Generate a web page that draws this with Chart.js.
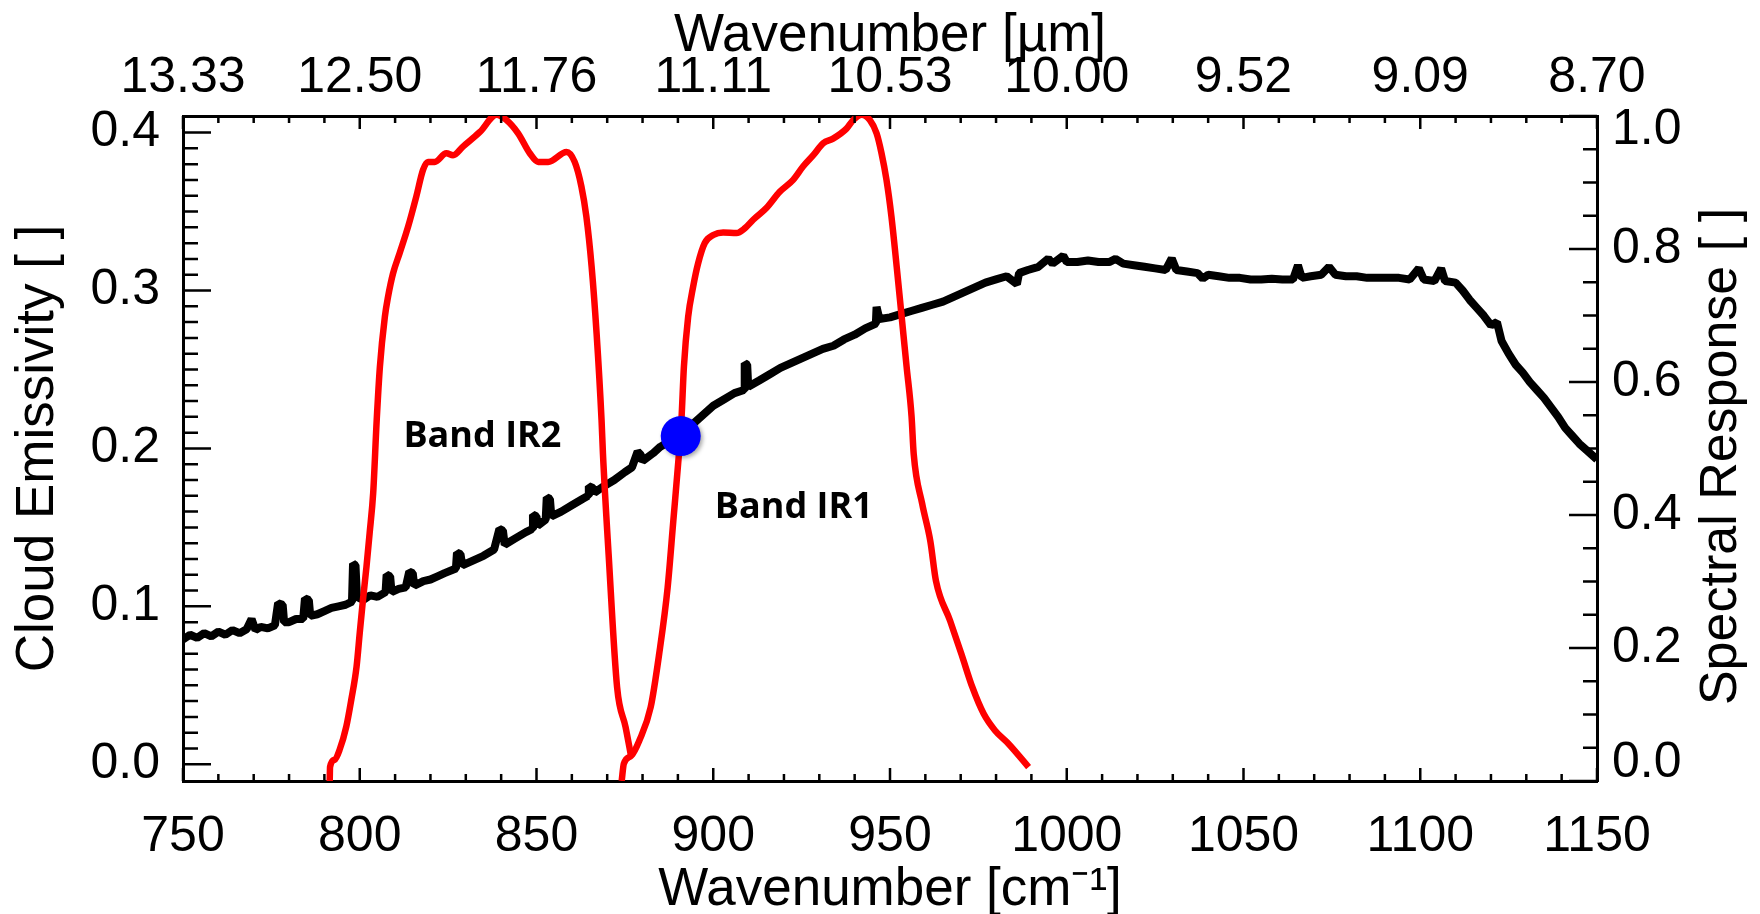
<!DOCTYPE html>
<html lang="en">
<head>
<meta charset="UTF-8">
<title>Cloud Emissivity and Spectral Response</title>
<script src="https://cdn.jsdelivr.net/npm/chart.js@4.4.1/dist/chart.umd.min.js"></script>
<style>
  html, body { margin: 0; padding: 0; background: #fff; }
  .chart-container { position: relative; width: 1760px; height: 914px; }
</style>
</head>
<body>
<div class="chart-container"><canvas id="emisChart"></canvas></div>
<script>
// tick values
const wnTicks = [750, 800, 850, 900, 950, 1000, 1050, 1100, 1150];
const emisTicks = [0.0, 0.1, 0.2, 0.3, 0.4];
const respTicks = [0.0, 0.2, 0.4, 0.6, 0.8, 1.0];

// cloud emissivity (black)
const emisWn = [
  750, 752, 754, 756, 758, 760, 762, 764, 766, 768, 769.4, 770.5, 772, 774, 776, 776.9, 778.2, 778.6,
  780, 782, 784, 784.5, 785.6, 786, 788, 790, 792, 794, 796, 797.8, 798.1, 798.8, 799.2,
  801, 803, 805, 807.3, 807.6, 808.6, 809, 811, 813, 814, 815, 815.4, 818, 820, 822, 824,
  827.2, 827.5, 828.5, 829, 832, 835, 838, 839.5, 840.5, 841, 844, 847, 848.8, 849, 850, 850.3,
  852.6, 852.9, 853.8, 854.2, 857, 860, 863, 864.6, 864.8, 866, 866.4, 869, 872, 875, 877,
  878.6, 879.5, 880, 883, 885, 888, 891, 894, 897, 900, 903, 906, 908.7, 908.9, 909.6, 909.9,
  913, 916, 919, 922, 925, 928, 931, 934, 937, 940, 943, 946, 946.2, 947, 950, 953, 956, 959,
  962, 965, 968, 971, 974, 977, 980, 983, 985.9, 986.5, 989, 992, 994.8, 996, 999, 1000,
  1003, 1006, 1009, 1012, 1013.8, 1016, 1019, 1022, 1025, 1028, 1029.7, 1031, 1034, 1037, 1038.5,
  1040, 1043, 1046, 1049, 1052, 1055, 1058, 1061, 1064, 1065.4, 1066.5, 1069, 1072, 1074.2, 1076,
  1079, 1082, 1085, 1088, 1091, 1094, 1097, 1099.6, 1101, 1104, 1105.9, 1107, 1110, 1112, 1114,
  1116, 1118, 1120, 1121.7, 1123, 1125, 1127, 1129, 1131, 1133, 1135, 1137, 1139, 1141, 1143,
  1145, 1147, 1150
];
const emisVal = [
  0.079, 0.082, 0.080, 0.083, 0.081, 0.084, 0.082, 0.085, 0.083, 0.0855, 0.092, 0.085, 0.087, 0.086, 0.088, 0.102, 0.101, 0.090,
  0.090, 0.092, 0.092, 0.105, 0.104, 0.094, 0.095, 0.097, 0.099, 0.100, 0.101, 0.103, 0.127, 0.126, 0.106,
  0.104, 0.107, 0.106, 0.109, 0.120, 0.119, 0.109, 0.111, 0.112, 0.122, 0.121, 0.113, 0.116, 0.117, 0.119, 0.121,
  0.124, 0.134, 0.133, 0.126, 0.129, 0.132, 0.136, 0.149, 0.148, 0.139, 0.143, 0.147, 0.149, 0.158, 0.157, 0.151,
  0.155, 0.169, 0.168, 0.157, 0.160, 0.164, 0.168, 0.170, 0.176, 0.175, 0.172, 0.176, 0.180, 0.185, 0.188,
  0.198, 0.196, 0.192, 0.197, 0.201, 0.205, 0.209, 0.215, 0.221, 0.227, 0.231, 0.235, 0.237, 0.254, 0.253, 0.239,
  0.243, 0.247, 0.251, 0.254, 0.257, 0.260, 0.263, 0.265, 0.269, 0.272, 0.276, 0.279, 0.2896, 0.282, 0.283, 0.285, 0.287, 0.289,
  0.291, 0.293, 0.296, 0.299, 0.302, 0.305, 0.307, 0.309, 0.304, 0.311, 0.313, 0.315, 0.3203, 0.317, 0.322, 0.318,
  0.318, 0.319, 0.318, 0.318, 0.320, 0.317, 0.316, 0.315, 0.314, 0.313, 0.3203, 0.313, 0.312, 0.311, 0.3075,
  0.310, 0.309, 0.308, 0.308, 0.307, 0.307, 0.3075, 0.307, 0.307, 0.316, 0.308, 0.309, 0.310, 0.315, 0.310,
  0.309, 0.309, 0.308, 0.308, 0.308, 0.308, 0.307, 0.314, 0.307, 0.306, 0.314, 0.306, 0.305, 0.300, 0.294,
  0.289, 0.284, 0.278, 0.280, 0.268, 0.260, 0.253, 0.248, 0.242, 0.237, 0.232, 0.226, 0.220, 0.213, 0.208,
  0.203, 0.199, 0.193
];

// spectral response, band IR2 (red, left band)
const ir2Wn = [
  791.5, 791.6, 792.9, 794.3, 796.2, 797.6, 799.1, 800.0, 800.9, 801.9, 802.8, 803.8, 804.8, 805.7,
  807.1, 808.0, 809.4, 811.3, 813.7, 816.0, 817.9, 819.3, 821.2, 824.5, 826.4, 829.2, 834.0, 838.7,
  841.5, 844.8, 848.1, 850.5, 853.3, 858.5, 860.8, 862.7, 864.1, 865.6, 867.0, 868.4, 868.8, 870.4,
  872.8, 875.2, 876.8
];
const ir2Resp = [
  0.0, 0.021, 0.032, 0.047, 0.082, 0.122, 0.172, 0.223, 0.272, 0.322, 0.373, 0.433, 0.543, 0.623,
  0.698, 0.728, 0.763, 0.794, 0.834, 0.879, 0.919, 0.931, 0.931, 0.944, 0.941, 0.954, 0.976, 1.002,
  0.994, 0.974, 0.944, 0.931, 0.931, 0.946, 0.931, 0.894, 0.849, 0.773, 0.673, 0.543, 0.492, 0.341,
  0.141, 0.081, 0.036
];

// spectral response, band IR1 (red, right band)
const ir1Wn = [
  874.1, 874.7, 876.8, 879.1, 882.3, 884.7, 887.1, 888.7, 890.3, 891.0, 891.7, 892.9, 894.3, 895.7,
  897.6, 900.0, 902.8, 906.6, 908.9, 911.3, 915.1, 918.8, 922.6, 925.4, 928.3, 931.1, 933.9, 937.7,
  939.6, 942.0, 944.3, 946.2, 947.6, 949.0, 950.4, 951.9, 953.3, 954.7, 956.1, 956.7, 959.1, 961.4,
  963.0, 967.0, 970.2, 973.3, 976.5, 979.7, 983.7, 989.2
];
const ir1Resp = [
  0.0, 0.026, 0.038, 0.061, 0.111, 0.191, 0.291, 0.391, 0.492, 0.543, 0.623, 0.698, 0.743, 0.778,
  0.809, 0.821, 0.825, 0.824, 0.831, 0.844, 0.862, 0.886, 0.904, 0.924, 0.941, 0.959, 0.966, 0.981,
  0.994, 1.002, 0.994, 0.974, 0.944, 0.904, 0.849, 0.773, 0.698, 0.623, 0.548, 0.492, 0.417, 0.361,
  0.301, 0.241, 0.191, 0.141, 0.101, 0.076, 0.055, 0.021
];

// blue marker on the emissivity curve
const markerWn = [890.8];
const markerEmis = [0.2078];

const FONT = "'Liberation Sans', Arial, Helvetica, sans-serif";
Chart.defaults.font.family = FONT;
Chart.defaults.color = '#000';

// band names, anchored in data units (x: wavenumber, y: emissivity)
const bandNotes = [
  { text: 'Band IR2', x: 834.7, y: 0.2075 },
  { text: 'Band IR1', x: 922.8, y: 0.1625 }
];

const toPoints = (xs, ys) => xs.map((x, i) => ({ x: x, y: ys[i] }));

// IDL style ticks pointing into the plot, plus right-hand labels and title
const idlAxes = {
  id: 'idlAxes',
  afterDraw(chart) {
    const ctx = chart.ctx;
    const { top, bottom, left, right } = chart.chartArea;
    const sx = chart.scales.x, sy = chart.scales.y, sy2 = chart.scales.y2;
    ctx.save();
    ctx.strokeStyle = '#000';
    ctx.lineWidth = 2.5;
    ctx.beginPath();
    for (let i = 0; i <= 40; i++) {
      const px = sx.getPixelForValue(750 + i * 10);
      const len = i % 5 === 0 ? 13 : 7;
      ctx.moveTo(px, bottom); ctx.lineTo(px, bottom - len);
      ctx.moveTo(px, top); ctx.lineTo(px, top + len);
    }
    for (let i = 0; i <= 40; i++) {
      const py = sy.getPixelForValue(i * 0.01);
      ctx.moveTo(left, py); ctx.lineTo(left + (i % 10 === 0 ? 28 : 15), py);
    }
    for (let i = 0; i <= 20; i++) {
      const py = sy2.getPixelForValue(i * 0.05);
      ctx.moveTo(right, py); ctx.lineTo(right - (i % 4 === 0 ? 28 : 14), py);
    }
    ctx.stroke();

    // right axis labels, kept inside the frame at the ends
    ctx.fillStyle = '#000';
    ctx.font = '50px ' + FONT;
    ctx.textAlign = 'left';
    ctx.textBaseline = 'middle';
    respTicks.forEach(v => {
      let py = sy2.getPixelForValue(v);
      py = Math.min(Math.max(py, top + 14), bottom - 18);
      ctx.fillText(v.toFixed(1), right + 15, py);
    });

    // right axis title, reading bottom to top like the left one
    ctx.font = '52px ' + FONT;
    ctx.textAlign = 'center';
    ctx.translate(right + 125, (top + bottom) / 2 + 8);
    ctx.rotate(-Math.PI / 2);
    ctx.fillText('Spectral Response [ ]', 0, 0);
    ctx.setTransform(1, 0, 0, 1, 0, 0);

    // band annotations
    ctx.font = 'bold 36px "Open Sans", "Noto Sans", sans-serif';
    bandNotes.forEach(n => {
      ctx.fillText(n.text, sx.getPixelForValue(n.x), sy.getPixelForValue(n.y));
    });
    ctx.restore();
  },
  beforeDatasetDraw(chart, args) {
    if (args.index === 0) {
      const ctx = chart.ctx;
      ctx.shadowColor = 'rgba(0,0,0,0.35)';
      ctx.shadowBlur = 4;
      ctx.shadowOffsetX = 2;
      ctx.shadowOffsetY = 2;
    }
  },
  afterDatasetDraw(chart, args) {
    if (args.index === 0) {
      const ctx = chart.ctx;
      ctx.shadowColor = 'rgba(0,0,0,0)';
      ctx.shadowBlur = 0;
      ctx.shadowOffsetX = 0;
      ctx.shadowOffsetY = 0;
    }
  }
};

const frame = { display: true, color: '#000', width: 3 };

new Chart(document.getElementById('emisChart').getContext('2d'), {
  type: 'line',
  data: {
    datasets: [
      {
        type: 'scatter',
        label: 'Marker',
        data: toPoints(markerWn, markerEmis),
        xAxisID: 'x', yAxisID: 'y',
        pointRadius: 20,
        pointBackgroundColor: '#0000ff',
        pointBorderWidth: 0,
        showLine: false
      },
      {
        label: 'Band IR1',
        data: toPoints(ir1Wn, ir1Resp),
        xAxisID: 'x', yAxisID: 'y2',
        borderColor: '#ff0000',
        borderWidth: 6.5,
        pointRadius: 0,
        cubicInterpolationMode: 'monotone'
      },
      {
        label: 'Band IR2',
        data: toPoints(ir2Wn, ir2Resp),
        xAxisID: 'x', yAxisID: 'y2',
        borderColor: '#ff0000',
        borderWidth: 6.5,
        pointRadius: 0,
        cubicInterpolationMode: 'monotone'
      },
      {
        label: 'Cloud Emissivity',
        data: toPoints(emisWn, emisVal),
        xAxisID: 'x', yAxisID: 'y',
        borderColor: '#000000',
        borderWidth: 8,
        borderJoinStyle: 'bevel',
        pointRadius: 0,
        tension: 0
      }
    ]
  },
  options: {
    responsive: true,
    maintainAspectRatio: false,
    animation: false,
    devicePixelRatio: 1,
    layout: { padding: 0 },
    plugins: {
      legend: { display: false },
      tooltip: { enabled: false }
    },
    scales: {
      x: {
        type: 'linear', position: 'bottom', min: 750, max: 1150,
        afterBuildTicks: s => { s.ticks = wnTicks.map(v => ({ value: v })); },
        afterFit: s => { s.height = 133; },
        grid: { display: false },
        border: frame,
        ticks: { font: { size: 50 }, padding: 18, maxRotation: 0, autoSkip: false, callback: v => String(v) },
        title: {
          display: true, text: 'Wavenumber [cm\u207B\u00B9]',
          font: { size: 53, lineHeight: 0.9 }, padding: { top: 0, bottom: 0 }
        }
      },
      x2: {
        type: 'linear', position: 'top', min: 750, max: 1150,
        afterBuildTicks: s => { s.ticks = wnTicks.map(v => ({ value: v })); },
        afterFit: s => { s.height = 116; },
        grid: { display: false },
        border: frame,
        ticks: {
          font: { size: 50 }, padding: 0, maxRotation: 0, autoSkip: false,
          callback: v => (10000 / v).toFixed(2)
        },
        title: {
          display: true, text: 'Wavenumber [\u00B5m]',
          font: { size: 53, lineHeight: 1 }, padding: { top: 10, bottom: 0 }
        }
      },
      y: {
        type: 'linear', position: 'left', min: -0.0106, max: 0.4105,
        afterBuildTicks: s => { s.ticks = emisTicks.map(v => ({ value: v })); },
        afterFit: s => { s.width = 183; },
        grid: { display: false },
        border: frame,
        ticks: { font: { size: 50 }, padding: 15, callback: v => v.toFixed(1) },
        title: {
          display: true, text: 'Cloud Emissivity [ ]',
          font: { size: 53, lineHeight: 1 }, padding: { top: 12, bottom: 0 }
        }
      },
      y2: {
        type: 'linear', position: 'right', min: 0, max: 1.0,
        afterFit: s => { s.width = 163; },
        grid: { display: false },
        border: frame,
        ticks: { display: false }
      }
    }
  },
  plugins: [idlAxes]
});
</script>
</body>
</html>
